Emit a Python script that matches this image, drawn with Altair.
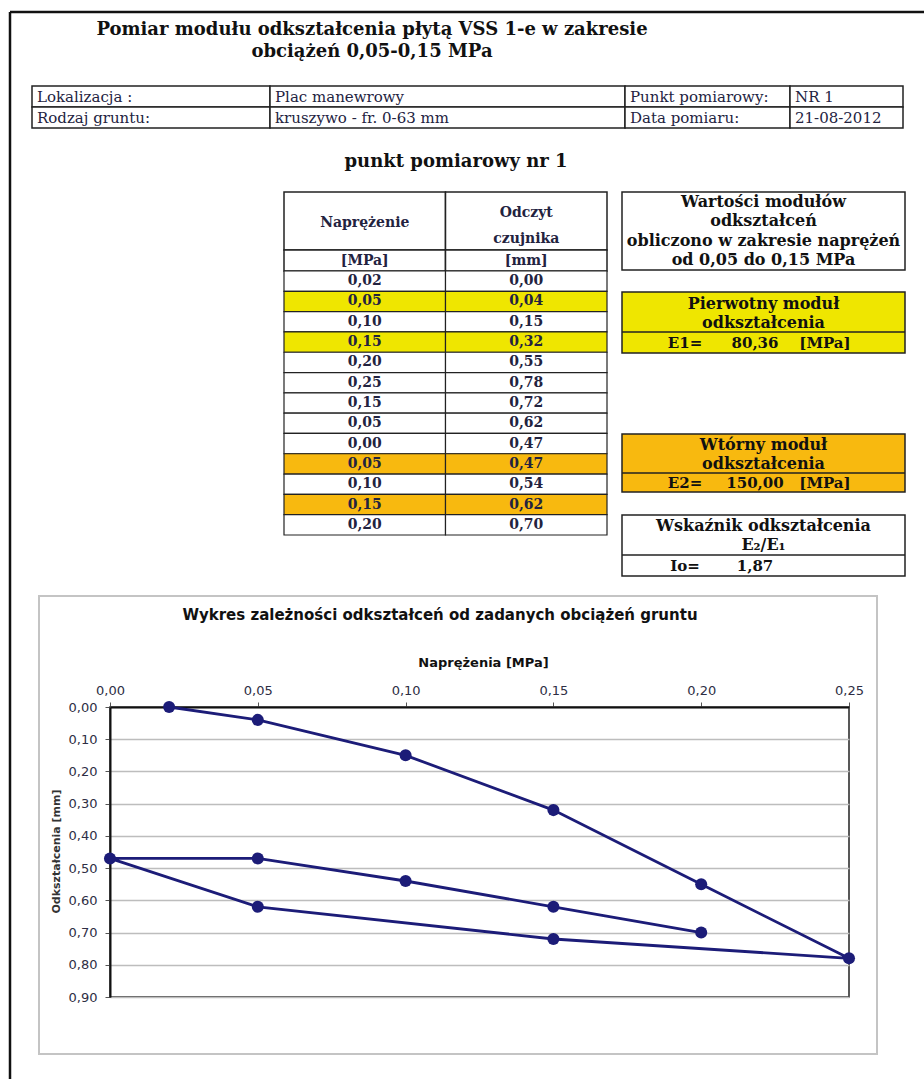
import altair as alt
import pandas as pd

# ---------------- data ----------------
TITLE_LINES = ["Pomiar modułu odkształcenia płytą VSS 1-e w zakresie", "obciążeń 0,05-0,15 MPa"]
INFO_ROWS = [
    ["Lokalizacja :", "Plac manewrowy", "Punkt pomiarowy:", "NR 1"],
    ["Rodzaj gruntu:", "kruszywo - fr. 0-63 mm", "Data pomiaru:", "21-08-2012"],
]
SUBTITLE = "punkt pomiarowy nr 1"
HEADER_TEXT = [["Naprężenie"], ["Odczyt", "czujnika"]]
UNIT_TEXT = ["[MPa]", "[mm]"]
STRESS = [0.02, 0.05, 0.10, 0.15, 0.20, 0.25, 0.15, 0.05, 0.00, 0.05, 0.10, 0.15, 0.20]
READING = [0.00, 0.04, 0.15, 0.32, 0.55, 0.78, 0.72, 0.62, 0.47, 0.47, 0.54, 0.62, 0.70]
ROW_GROUP = ["-", "E1", "-", "E1", "-", "-", "-", "-", "-", "E2", "-", "E2", "-"]
INFO_BOX_LINES = ["Wartości modułów", "odkształceń", "obliczono w zakresie naprężeń", "od 0,05 do 0,15 MPa"]
E1_LINES = ["Pierwotny moduł", "odkształcenia"]
E2_LINES = ["Wtórny moduł", "odkształcenia"]
IO_LINES = ["Wskaźnik odkształcenia", "E₂/E₁"]
E1_VALUE = 80.36
E2_VALUE = 150.00
IO_VALUE = 1.87
CHART_TITLE = "Wykres zależności odkształceń od zadanych obciążeń gruntu"
X_TITLE = "Naprężenia [MPa]"
Y_TITLE = "Odkształcenia [mm]"
X_TICKS = [0.0, 0.05, 0.10, 0.15, 0.20, 0.25]
Y_TICKS = [0.0, 0.1, 0.2, 0.3, 0.4, 0.5, 0.6, 0.7, 0.8, 0.9]

# ---------------- layout (page pixels) ----------------
PAGE_W, PAGE_H = 924, 1079
PLOT_L, PLOT_T, PLOT_R, PLOT_B = 110, 707, 849, 997
OX, OY = PLOT_L, PLOT_T
INFO_COL_EDGES = [32, 270, 625, 790, 903]
INFO_Y = (86, 128)
MEAS_X = (284, 607)
HEAD_Y, UNIT_Y, BODY_Y = (192, 250), (250, 271), (271, 535)
BOX_X = (622, 905)
VAL_X = (650, 860)

SERIF = "DejaVu Serif"
SANS = "DejaVu Sans"
INK = "#23233f"
LINE = "#222222"
YELLOW = "#EFE600"
ORANGE = "#F8B90F"
NAVY = "#1c1c78"
GRID = "#bdbdbd"


def px(x):
    return x - OX


def py(y):
    return y - OY


def comma(v, d=2):
    return f"{v:.{d}f}".replace(".", ",")


one = pd.DataFrame({"k": [0]})


def hline(x0, x1, y, color=LINE, w=1.5):
    return alt.Chart(one).mark_rule(color=color, strokeWidth=w).encode(
        x=alt.value(px(x0)), x2=alt.value(px(x1)), y=alt.value(py(y)), y2=alt.value(py(y)))


def vline(x, y0, y1, color=LINE, w=1.5):
    return alt.Chart(one).mark_rule(color=color, strokeWidth=w).encode(
        x=alt.value(px(x)), x2=alt.value(px(x)), y=alt.value(py(y0)), y2=alt.value(py(y1)))


def box(x0, x1, y0, y1, fill="white", stroke=LINE, w=1.5, opacity=1):
    return alt.Chart(one).mark_rect(fill=fill, stroke=stroke, strokeWidth=w, fillOpacity=opacity).encode(
        x=alt.value(px(x0)), x2=alt.value(px(x1)), y=alt.value(py(y0)), y2=alt.value(py(y1)))


def line_stack(lines, xc, y0, y1, size, weight="bold", font=SERIF, color="#111111"):
    df = pd.DataFrame({"i": list(range(len(lines))), "t": lines})
    return alt.Chart(df).mark_text(font=font, fontSize=size, fontWeight=weight, color=color,
                                   align="center", baseline="middle").encode(
        x=alt.value(px(xc)),
        y=alt.Y("i:O", axis=None, scale=alt.Scale(type="point", domain=list(range(len(lines))),
                                                  range=[py(y0), py(y1)], padding=0.5)),
        text="t:N")


def value_row(parts, y0, y1, size=15):
    df = pd.DataFrame({"k": list(range(len(parts))), "t": parts})
    return alt.Chart(df).mark_text(font=SERIF, fontSize=size, fontWeight="bold", color="#111111",
                                   align="center", baseline="middle").encode(
        x=alt.X("k:O", axis=None, scale=alt.Scale(type="point", domain=[0, 1, 2],
                                                  range=[px(VAL_X[0]), px(VAL_X[1])], padding=0.5)),
        y=alt.value(py((y0 + y1) / 2)),
        text="t:N")


def band(n, a, b):
    return alt.Scale(type="band", domain=list(range(n)), range=[a, b], paddingInner=0, paddingOuter=0)


layers = []

# page border
layers.append(hline(10, PAGE_W, 12, "#111111", 2.5))
layers.append(vline(10, 12, PAGE_H, "#111111", 2.5))

# chart frame
layers.append(box(39, 877, 596, 1054, fill="white", stroke="#c4c4c4", w=2, opacity=0))

# ---------------- line chart ----------------
plot_df = pd.DataFrame({"n": list(range(len(STRESS))), "s": STRESS, "d": READING})
label_expr = "replace(format(datum.value, '.2f'), '.', ',')"
xaxis = alt.Axis(orient="top", values=X_TICKS, labelExpr=label_expr, title=X_TITLE, grid=False,
                 labelFont=SANS, labelFontSize=13, labelColor="#2e2e44", labelPadding=5,
                 labelFlush=False, labelOverlap=False,
                 tickSize=5, tickColor="#555555", domainColor="#111111", domainWidth=2,
                 titleFont=SANS, titleFontSize=13, titleFontWeight="bold", titleColor="#111111",
                 titleX=373, titleY=-45, titleBaseline="middle", titleAlign="center")
yaxis = alt.Axis(orient="left", values=Y_TICKS, labelExpr=label_expr, title=Y_TITLE, grid=True,
                 gridColor=GRID, gridWidth=1.5,
                 labelFont=SANS, labelFontSize=13, labelColor="#2e2e44", labelPadding=8,
                 labelFlush=False, labelOverlap=False,
                 tickSize=5, tickColor="#555555", domainColor="#111111", domainWidth=2,
                 titleFont=SANS, titleFontSize=11, titleFontWeight="bold", titleColor="#333333",
                 titleX=-54, titleY=144, titleAngle=-90, titleBaseline="middle", titleAlign="center")
xs = alt.Scale(domain=[0, 0.25], nice=False, zero=False)
ys = alt.Scale(domain=[0, 0.9], nice=False, reverse=True)
enc_x = alt.X("s:Q", scale=xs, axis=xaxis)
enc_y = alt.Y("d:Q", scale=ys, axis=yaxis)
line = alt.Chart(plot_df).mark_line(color=NAVY, strokeWidth=2.8).encode(x=enc_x, y=enc_y, order="n:Q")
pts = alt.Chart(plot_df).mark_circle(color=NAVY, size=145, opacity=1).encode(x=enc_x, y=enc_y)
layers.append(alt.layer(line, pts))

layers.append(line_stack([CHART_TITLE], 440, 605, 625, 15, font=SANS))

# ---------------- page title & info table ----------------
layers.append(line_stack(TITLE_LINES, 372, 19, 63, 18))

info_df = pd.DataFrame([
    {"r": r, "c": c, "t": t, "x0": INFO_COL_EDGES[c], "x1": INFO_COL_EDGES[c + 1]}
    for r, row in enumerate(INFO_ROWS) for c, t in enumerate(row)
])
page_x = alt.Scale(domain=[0, PAGE_W], range=[px(0), px(PAGE_W)])
info_y = band(2, py(INFO_Y[0]), py(INFO_Y[1]))
layers.append(alt.Chart(info_df).mark_rect(fill="white", stroke=LINE, strokeWidth=1.5).encode(
    x=alt.X("x0:Q", scale=page_x, axis=None), x2="x1:Q",
    y=alt.Y("r:O", scale=info_y, axis=None)))
layers.append(alt.Chart(info_df).mark_text(font=SERIF, fontSize=15, color=INK, align="left",
                                           baseline="middle", dx=5).encode(
    x=alt.X("x0:Q", scale=page_x, axis=None),
    y=alt.Y("r:O", scale=info_y, axis=None, bandPosition=0.5),
    text="t:N"))

layers.append(line_stack([SUBTITLE], 456, 152, 172, 18))

# ---------------- measurement table ----------------
col_scale = band(2, px(MEAS_X[0]), px(MEAS_X[1]))
col_w = (MEAS_X[1] - MEAS_X[0]) / 2

head_df = pd.DataFrame({"r": [0, 0], "c": [0, 1]})
head_y = band(1, py(HEAD_Y[0]), py(HEAD_Y[1]))
layers.append(alt.Chart(head_df).mark_rect(fill="white", stroke=LINE, strokeWidth=1.5).encode(
    x=alt.X("c:O", scale=col_scale, axis=None), y=alt.Y("r:O", scale=head_y, axis=None)))
layers.append(line_stack(HEADER_TEXT[0], MEAS_X[0] + 0.5 * col_w, 196, 250, 14, color=INK))
layers.append(line_stack(HEADER_TEXT[1], MEAS_X[0] + 1.5 * col_w, 200, 252, 14, color=INK))

unit_df = pd.DataFrame({"r": [0, 0], "c": [0, 1], "t": UNIT_TEXT})
unit_y = band(1, py(UNIT_Y[0]), py(UNIT_Y[1]))
layers.append(alt.Chart(unit_df).mark_rect(fill="white", stroke=LINE, strokeWidth=1.5).encode(
    x=alt.X("c:O", scale=col_scale, axis=None), y=alt.Y("r:O", scale=unit_y, axis=None)))
layers.append(alt.Chart(unit_df).mark_text(font=SERIF, fontSize=14, fontWeight="bold", color=INK,
                                           align="center", baseline="middle").encode(
    x=alt.X("c:O", scale=col_scale, axis=None, bandPosition=0.5),
    y=alt.Y("r:O", scale=unit_y, axis=None, bandPosition=0.5),
    text="t:N"))

body_rows = []
for i, (s, d, g) in enumerate(zip(STRESS, READING, ROW_GROUP)):
    body_rows.append({"r": i, "c": 0, "t": comma(s), "g": g})
    body_rows.append({"r": i, "c": 1, "t": comma(d), "g": g})
body_df = pd.DataFrame(body_rows)
body_y = band(len(STRESS), py(BODY_Y[0]), py(BODY_Y[1]))
layers.append(alt.Chart(body_df).mark_rect(stroke=LINE, strokeWidth=1.2).encode(
    x=alt.X("c:O", scale=col_scale, axis=None),
    y=alt.Y("r:O", scale=body_y, axis=None),
    color=alt.Color("g:N", scale=alt.Scale(domain=["-", "E1", "E2"], range=["white", YELLOW, ORANGE]),
                    legend=None)))
layers.append(alt.Chart(body_df).mark_text(font=SERIF, fontSize=14, fontWeight="bold", color=INK,
                                           align="center", baseline="middle").encode(
    x=alt.X("c:O", scale=col_scale, axis=None, bandPosition=0.5),
    y=alt.Y("r:O", scale=body_y, axis=None, bandPosition=0.5),
    text="t:N"))

# ---------------- right-hand boxes ----------------
bx0, bx1 = BOX_X
bxc = (bx0 + bx1) / 2
layers.append(box(bx0, bx1, 192, 270))
layers.append(line_stack(INFO_BOX_LINES, bxc, 192, 270, 16))

layers.append(box(bx0, bx1, 292, 353, fill=YELLOW))
layers.append(hline(bx0, bx1, 332))
layers.append(line_stack(E1_LINES, bxc, 294, 332, 16))
layers.append(value_row(["E1=", comma(E1_VALUE), "[MPa]"], 332, 353))

layers.append(box(bx0, bx1, 434, 492, fill=ORANGE))
layers.append(hline(bx0, bx1, 473))
layers.append(line_stack(E2_LINES, bxc, 436, 473, 16))
layers.append(value_row(["E2=", comma(E2_VALUE), "[MPa]"], 473, 492))

layers.append(box(bx0, bx1, 515, 576))
layers.append(hline(bx0, bx1, 555))
layers.append(line_stack(IO_LINES, bxc, 516, 555, 16))
layers.append(value_row(["Io=", comma(IO_VALUE)], 555, 576))

chart = alt.layer(*layers).resolve_scale(
    x="independent", y="independent", color="independent"
).properties(
    width=PLOT_R - PLOT_L,
    height=PLOT_B - PLOT_T,
    padding={"left": OX, "top": OY, "right": PAGE_W - PLOT_R, "bottom": PAGE_H - PLOT_B},
    autosize=alt.AutoSizeParams(type="none"),
    background="white",
).configure_view(stroke="#222222", strokeWidth=1.5)

chart.save("out.html", embed_options={"renderer": "svg", "actions": False})
